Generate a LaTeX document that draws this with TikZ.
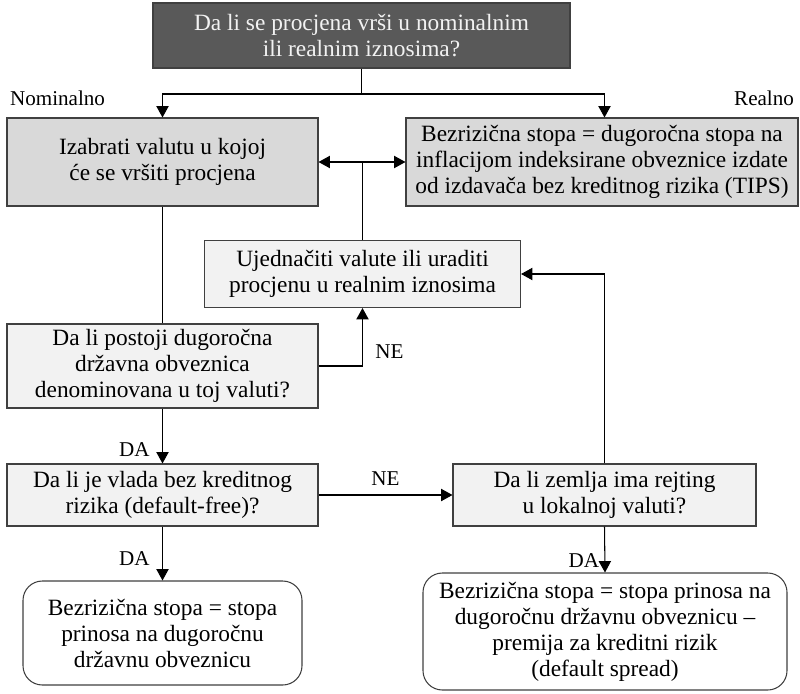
\documentclass[tikz,border=0pt]{standalone}
\usepackage{fontspec}
\setmainfont{Liberation Serif}
\usetikzlibrary{arrows.meta}
\definecolor{darkbox}{HTML}{595959}
\definecolor{midbox}{HTML}{D9D9D9}
\definecolor{lightbox}{HTML}{F2F2F2}
\definecolor{edge}{HTML}{404040}
\tikzset{
  box/.style={draw=edge, line width=0.6pt, align=center, inner sep=0pt, font=\fontsize{13.3}{14.8}\selectfont},
  endbox/.style={box, fill=white, rounded corners=11pt},
  arr/.style={-{Triangle[length=6.5pt,width=7pt]}, line width=0.6pt, draw=black},
  dblarr/.style={{Triangle[length=6.5pt,width=7pt]}-{Triangle[length=6.5pt,width=7pt]}, line width=0.6pt, draw=black},
  line/.style={line width=0.6pt, draw=black},
  lbl/.style={font=\fontsize{12}{14}\selectfont, inner sep=1pt}
}
\begin{document}
\begin{tikzpicture}[x=0.02cm,y=-0.02cm]
  \useasboundingbox (0,0) rectangle (800,693);

  \node at (361.5,35.5) [box, fill=darkbox, text=lightbox, minimum width=417*0.02cm, minimum height=65*0.02cm] (q) {Da li se procjena vrši u nominalnim\\ili realnim iznosima?};
  \node at (162.5,162) [box, fill=midbox, minimum width=311*0.02cm, minimum height=88*0.02cm] (choose) {Izabrati valutu u kojoj\\će se vršiti procjena};
  \node at (602,162) [box, fill=midbox, minimum width=392*0.02cm, minimum height=88*0.02cm] (tips) {Bezrizična stopa = dugoročna stopa na\\inflacijom indeksirane obveznice izdate\\od izdavača bez kreditnog rizika (TIPS)};
  \node at (362.5,274) [box, fill=lightbox, minimum width=316*0.02cm, minimum height=67*0.02cm] (adjust) {Ujednačiti valute ili uraditi\\procjenu u realnim iznosima};
  \node at (162.5,366) [box, fill=lightbox, minimum width=311*0.02cm, minimum height=84*0.02cm] (bond) {Da li postoji dugoročna\\državna obveznica\\denominovana u toj valuti?};
  \node at (162.5,495) [box, fill=lightbox, minimum width=311*0.02cm, minimum height=62*0.02cm] (gov) {Da li je vlada bez kreditnog\\rizika (default-free)?};
  \node at (604.5,495) [box, fill=lightbox, minimum width=303*0.02cm, minimum height=62*0.02cm] (rating) {Da li zemlja ima rejting\\u lokalnoj valuti?};
  \node at (162.5,633) [endbox, minimum width=279*0.02cm, minimum height=104*0.02cm] (rfa) {Bezrizična stopa = stopa\\prinosa na dugoročnu\\državnu obveznicu};
  \node at (605,631.5) [endbox, minimum width=364*0.02cm, minimum height=117*0.02cm] (rfb) {Bezrizična stopa = stopa prinosa na\\dugoročnu državnu obveznicu --\\premija za kreditni rizik\\(default spread)};

  \node at (8,98) [lbl, anchor=west] (nom) {Nominalno};
  \node at (796,98) [lbl, anchor=east] (real) {Realno};

  \coordinate (split) at (361.5,94);
  \draw[line] (q.south) -- (split);
  \draw[arr] (split) -| (choose.north);
  \draw[arr] (split) -| (rating.north |- tips.north);
  \draw[dblarr] (choose.east) -- (tips.west);
  \draw[line] (adjust.north) -- (adjust.north |- choose.east);
  \draw[line] (choose.south) -- (bond.north);
  \draw[arr] (bond.east) -| (adjust.south) node[lbl, pos=0.62, right=6pt] {NE};
  \draw[arr] (bond.south) -- (gov.north) node[lbl, pos=0.75, left=6pt] {DA};
  \draw[arr] (gov.east) -- (rating.west) node[lbl, pos=0.5, above=4pt] {NE};
  \draw[arr] (rating.north) |- (adjust.east);
  \draw[arr] (gov.south) -- (rfa.north) node[lbl, pos=0.6, left=6pt] {DA};
  \draw[arr] (rating.south) -- (rfb.north) node[lbl, pos=0.74, left=2pt] {DA};
\end{tikzpicture}
\end{document}
